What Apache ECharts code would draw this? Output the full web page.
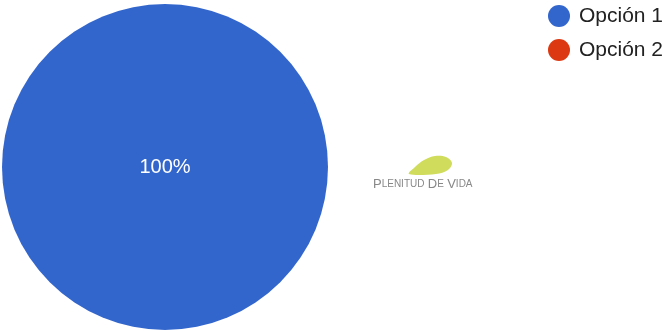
<!DOCTYPE html>
<html>
<head>
<meta charset="utf-8">
<script src="https://cdn.jsdelivr.net/npm/echarts@6/dist/echarts.min.js"></script>
<style>html,body{margin:0;padding:0;background:#fff}#c{width:667px;height:331px}</style>
</head>
<body>
<div id="c"></div>
<script>
const categories = ['Opción 1', 'Opción 2'];
const values = [100, 0];
const colors = ['#3366CC', '#DC3912'];

const chart = echarts.init(document.getElementById('c'), null, {renderer: 'canvas'});
const total = values.reduce((a, b) => a + b, 0);
chart.setOption({
  animation: false,
  color: colors,
  legend: {
    orient: 'vertical',
    left: 543,
    top: 0,
    icon: 'circle',
    itemWidth: 22,
    itemHeight: 22,
    itemGap: 12,
    textStyle: {fontSize: 21, color: '#222', fontFamily: 'Liberation Sans, Arial, sans-serif', padding: [0, 0, 0, 4]},
    data: categories
  },
  graphic: [
    {
      type: 'polygon',
      shape: {
        points: [[409, 174], [415, 167], [424, 160], [435, 156], [446, 157], [452, 163], [448, 170], [436, 174]],
        smooth: 0.35
      },
      style: {fill: '#cfdc5c'}
    },
    {
      type: 'text',
      left: 373,
      top: 178,
      style: {
        text: '{b|P}{s|LENITUD} {b|D}{s|E} {b|V}{s|IDA}',
        rich: {
          b: {fontSize: 13, fill: '#888', fontFamily: 'Liberation Sans, Arial, sans-serif'},
          s: {fontSize: 10, fill: '#888', fontFamily: 'Liberation Sans, Arial, sans-serif'}
        }
      }
    }
  ],
  series: [{
    type: 'pie',
    center: [165, 167],
    radius: [0, 163],
    startAngle: 90,
    itemStyle: {borderWidth: 0},
    label: {
      position: 'center',
      color: '#fff',
      fontSize: 20,
      fontFamily: 'Liberation Sans, Arial, sans-serif',
      formatter: p => p.value > 0 ? Math.round(p.value / total * 100) + '%' : ''
    },
    labelLine: {show: false},
    emphasis: {disabled: true},
    data: categories.map((n, i) => ({name: n, value: values[i]}))
  }]
});
</script>
</body>
</html>
